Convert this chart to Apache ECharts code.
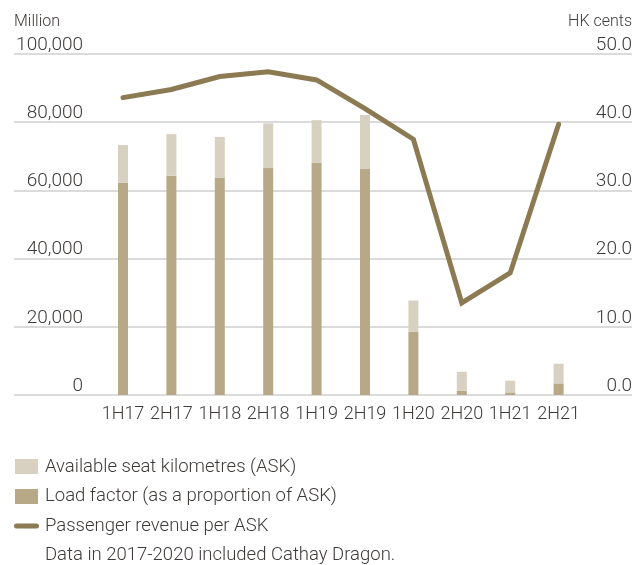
<!DOCTYPE html>
<html>
<head>
<meta charset="utf-8">
<script src="https://cdn.jsdelivr.net/npm/echarts@6/dist/echarts.min.js"></script>
<style>
html,body{margin:0;padding:0;background:#fff;}
#chart{width:635px;height:565px;}
</style>
</head>
<body>
<div id="chart"></div>
<script>
var categories = ['1H17','2H17','1H18','2H18','1H19','2H19','1H20','2H20','1H21','2H21'];
var askTotal = [73300, 76500, 75700, 79650, 80600, 82100, 27700, 6820, 4190, 9170];
var loadPortion = [62250, 64300, 63700, 66550, 68100, 66260, 18530, 1260, 760, 3400];
var revenuePerAsk = [43.6, 44.8, 46.7, 47.4, 46.2, 42.0, 37.5, 13.5, 17.9, 39.7];
var leftTicks = [0, 20000, 40000, 60000, 80000, 100000];
var rightTicks = [0, 10, 20, 30, 40, 50];

var askRemainder = askTotal.map(function(v, i){ return v - loadPortion[i]; });

var FONT = 'Roboto';
var TXT = '#3d3a38';
var C_LIGHT = '#d8d0c0';
var C_DARK = '#b7a988';
var C_LINE = '#8c7b52';

var chart = echarts.init(document.getElementById('chart'), null, {renderer:'canvas'});
var option = {
  animation: false,
  grid: [
    {left: 14, right: 2, top: 54, bottom: 170},
    {left: 98.8, right: 52.2, top: 54, bottom: 170}
  ],
  xAxis: [
    {gridIndex: 0, type: 'value', show: false, min: 0, max: 1},
    {gridIndex: 1, type: 'category', data: categories,
     axisLine: {show: false}, axisTick: {show: false},
     axisLabel: {interval: 0, color: TXT, fontFamily: FONT, fontSize: 18, fontWeight: 300, margin: 10}}
  ],
  yAxis: [
    {gridIndex: 0, type: 'value', position: 'left', min: 0, max: 100000, interval: 20000,
     axisLine: {show: false}, axisTick: {show: false},
     splitLine: {show: true, lineStyle: {color: '#cfcfcf', width: 1.5}},
     axisLabel: {inside: true, margin: 69, align: 'right', verticalAlign: 'bottom', lineHeight: 18,
       color: TXT, fontFamily: FONT, fontSize: 19, fontWeight: 300,
       formatter: function(v){ return leftTicks.indexOf(v) >= 0 ? v.toLocaleString('en-US') : ''; }}},
    {gridIndex: 0, type: 'value', position: 'right', min: 0, max: 50, interval: 10,
     axisLine: {show: false}, axisTick: {show: false}, splitLine: {show: false},
     axisLabel: {inside: true, margin: 0, align: 'right', verticalAlign: 'bottom', lineHeight: 18,
       color: TXT, fontFamily: FONT, fontSize: 19, fontWeight: 300,
       formatter: function(v){ return rightTicks.indexOf(v) >= 0 ? v.toFixed(1) : ''; }}},
    {gridIndex: 1, type: 'value', show: false, min: 0, max: 100000},
    {gridIndex: 1, type: 'value', show: false, min: 0, max: 50}
  ],
  series: [
    {name: 'Load factor (as a proportion of ASK)', type: 'bar', xAxisIndex: 1, yAxisIndex: 2,
     stack: 'ask', barWidth: 10, data: loadPortion, itemStyle: {color: C_DARK}},
    {name: 'Available seat kilometres (ASK)', type: 'bar', xAxisIndex: 1, yAxisIndex: 2,
     stack: 'ask', barWidth: 10, data: askRemainder, itemStyle: {color: C_LIGHT}},
    {name: 'Passenger revenue per ASK', type: 'line', xAxisIndex: 1, yAxisIndex: 3,
     data: revenuePerAsk, symbol: 'none', z: 5,
     lineStyle: {color: C_LINE, width: 5, cap: 'round', join: 'miter'}}
  ],
  graphic: [
    {type: 'text', x: 14, y: 21.5, style: {text: 'Million', fill: TXT, font: '300 16px Roboto', verticalAlign: 'middle'}},
    {type: 'text', x: 632, y: 21.5, style: {text: 'HK cents', fill: TXT, font: '300 16px Roboto', align: 'right', verticalAlign: 'middle'}},
    {type: 'rect', shape: {x: 15, y: 459, width: 23, height: 15}, style: {fill: C_LIGHT}},
    {type: 'text', x: 45, y: 467, style: {text: 'Available seat kilometres (ASK)', fill: TXT, font: '300 18.5px Roboto', verticalAlign: 'middle'}},
    {type: 'rect', shape: {x: 15, y: 489, width: 23, height: 15}, style: {fill: C_DARK}},
    {type: 'text', x: 45, y: 496.5, style: {text: 'Load factor (as a proportion of ASK)', fill: TXT, font: '300 18.5px Roboto', verticalAlign: 'middle'}},
    {type: 'line', shape: {x1: 16.5, y1: 526, x2: 36.5, y2: 526}, style: {stroke: C_LINE, lineWidth: 5, lineCap: 'round'}},
    {type: 'text', x: 45, y: 526, style: {text: 'Passenger revenue per ASK', fill: TXT, font: '300 18.5px Roboto', verticalAlign: 'middle'}},
    {type: 'text', x: 45, y: 555.5, style: {text: 'Data in 2017-2020 included Cathay Dragon.', fill: TXT, font: '300 18.5px Roboto', verticalAlign: 'middle'}}
  ]
};
chart.setOption(option);
</script>
</body>
</html>
